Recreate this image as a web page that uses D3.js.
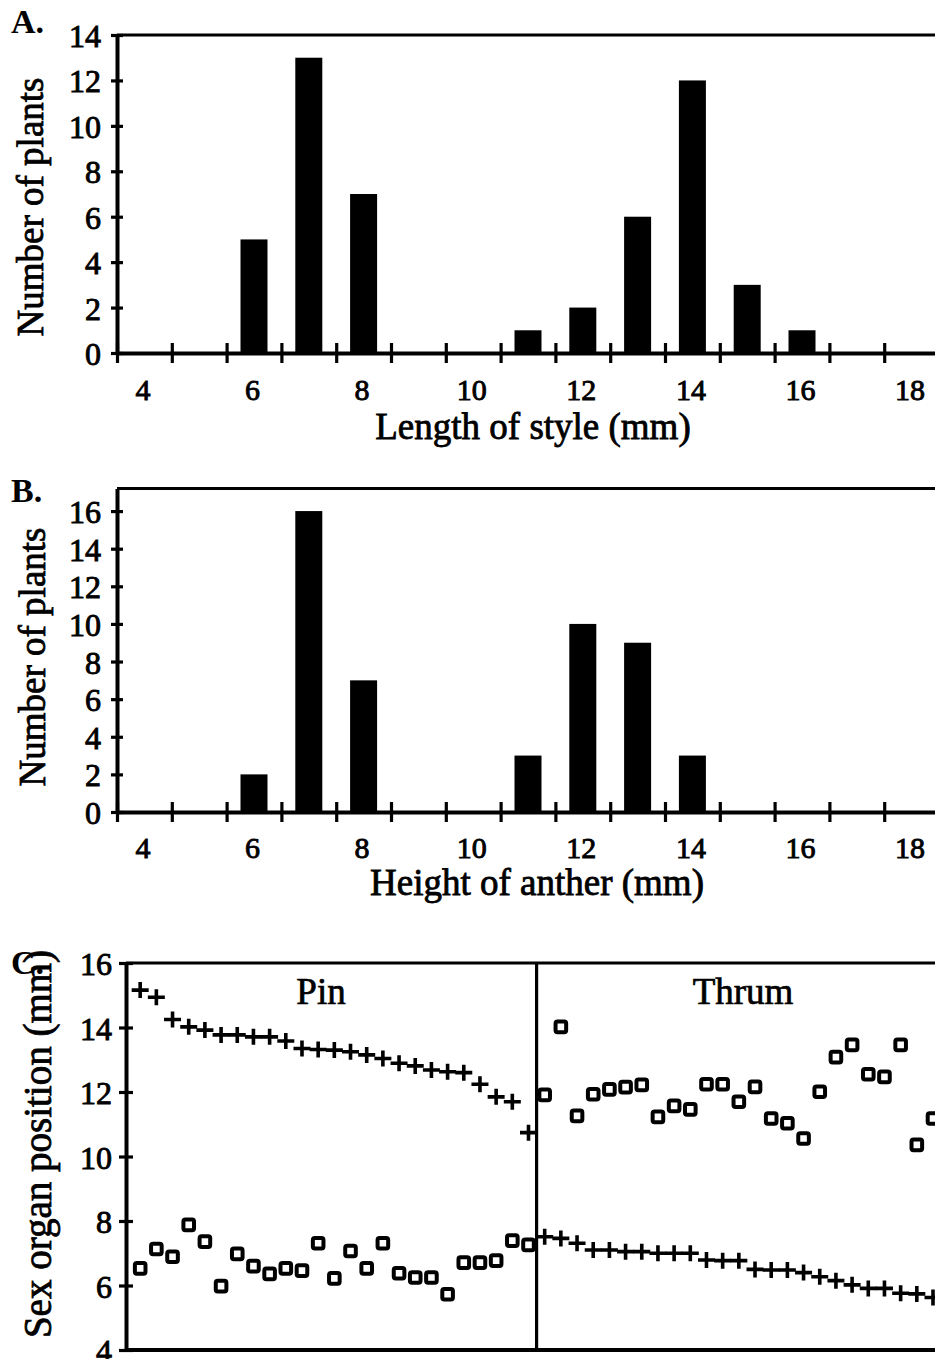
<!DOCTYPE html>
<html>
<head>
<meta charset="utf-8">
<script src="https://cdn.jsdelivr.net/npm/d3@7"></script>
<style>
  body { margin: 0; background: #fff; }
  text { font-family: "Liberation Serif", "Times New Roman", serif; fill: #000; }
</style>
</head>
<body>
<div id="chart"></div>
<script>
// histogram bins (mm) and counts
var bins = [4, 5, 6, 7, 8, 9, 10, 11, 12, 13, 14, 15, 16, 17, 18]
var styleCounts = [0, 0, 5, 13, 7, 0, 0, 1, 2, 6, 12, 3, 1, 0, 0]
var antherCounts = [0, 0, 2, 16, 7, 0, 0, 3, 10, 9, 3, 0, 0, 0, 0]
var binLabels = [4, 6, 8, 10, 12, 14, 16, 18]
var ticksA = [0, 2, 4, 6, 8, 10, 12, 14]
var ticksB = [0, 2, 4, 6, 8, 10, 12, 14, 16]

// panel C: plants ordered, crosses = style, squares = anther
var pinStyle = [15.16, 14.94, 14.25, 14.02, 13.92, 13.77, 13.77, 13.71, 13.71, 13.58, 13.35, 13.32, 13.30,
  13.25, 13.15, 13.04, 12.89, 12.81, 12.68, 12.63, 12.60, 12.24, 11.85, 11.70, 10.74]
var pinAnther = [6.53, 7.13, 6.89, 7.88, 7.36, 5.98, 6.98, 6.60, 6.36, 6.53, 6.46, 7.31, 6.22,
  7.07, 6.53, 7.31, 6.38, 6.25, 6.25, 5.73, 6.71, 6.71, 6.77, 7.39, 7.26]
var thrumAnther = [11.91, 14.02, 11.26, 11.93, 12.08, 12.15, 12.22, 11.23, 11.57, 11.46, 12.24, 12.24, 11.70,
  12.16, 11.18, 11.03, 10.56, 12.01, 13.08, 13.46, 12.55, 12.47, 13.46, 10.36, 11.18]
var thrumStyle = [7.51, 7.46, 7.31, 7.10, 7.10, 7.05, 7.05, 7.00, 7.00, 7.00, 6.79, 6.77, 6.77,
  6.50, 6.48, 6.48, 6.40, 6.27, 6.15, 6.02, 5.91, 5.91, 5.76, 5.74, 5.63]
var ticksC = [4, 6, 8, 10, 12, 14, 16]

var W = 935, H = 1359
var svg = d3.select("#chart").append("svg")
  .attr("width", W)
  .attr("height", H)

var xHist = d3.scaleLinear().domain([3.5, 18.5]).range([117, 939])
var boundaries = bins.map(function (b) { return b - 0.5 })

// scanned original has heavy type, so give text a thin outline
function ink(sel, w) {
  sel.attr("stroke", "#000").attr("stroke-width", w)
}

function drawHist(cfg) {
  var y = d3.scaleLinear().domain([0, cfg.yMax]).range([cfg.base, cfg.top])
  var g = svg.append("g")

  // top frame line
  g.append("line")
    .attr("x1", 117).attr("x2", W)
    .attr("y1", cfg.top).attr("y2", cfg.top)
    .attr("stroke", "#000").attr("stroke-width", 3.2)

  var data = bins.map(function (b, i) { return { bin: b, n: cfg.counts[i] } })
    .filter(function (d) { return d.n > 0 })
  g.selectAll(".bar")
    .data(data)
    .enter()
    .append("rect")
    .attr("class", "bar")
    .attr("x", function (d) { return xHist(d.bin) - 13.5 })
    .attr("width", 27)
    .attr("y", function (d) { return y(d.n) })
    .attr("height", function (d) { return y(0) - y(d.n) })
    .attr("fill", "#000")

  // x axis: ticks on bin edges, crossing the line
  var xa = g.append("g")
    .attr("transform", "translate(0," + cfg.base + ")")
    .call(d3.axisBottom(xHist).tickValues(boundaries).tickSizeOuter(0).tickFormat(""))
  xa.selectAll(".tick line").attr("y1", -10).attr("y2", 10).attr("stroke-width", 3.2)
  xa.select(".domain").attr("stroke-width", 4)

  var xl = g.append("g")
    .attr("transform", "translate(0," + cfg.base + ")")
    .call(d3.axisBottom(xHist).tickValues(binLabels).tickSize(0))
  xl.select(".domain").remove()
  xl.selectAll("text")
    .attr("x", -2)
    .attr("y", cfg.tickLabelY - cfg.base).attr("dy", 0)
    .style("font-family", "Liberation Serif").style("font-size", "30px")
    .call(ink, 0.9)

  var ya = g.append("g")
    .attr("transform", "translate(117,0)")
    .call(d3.axisLeft(y).tickValues(cfg.ticks).tickSizeOuter(0))
  ya.selectAll(".tick line").attr("x1", -6).attr("x2", 6).attr("stroke-width", 3.2)
  ya.select(".domain").attr("stroke-width", 4)
  ya.selectAll("text")
    .attr("x", -16).attr("dy", "0.36em")
    .style("font-family", "Liberation Serif").style("font-size", "32px")
    .call(ink, 0.9)

  g.append("text")
    .attr("x", cfg.titleX).attr("y", cfg.titleY)
    .attr("text-anchor", "middle")
    .style("font-size", "37px")
    .call(ink, 0.8)
    .text(cfg.title)

  g.append("text")
    .attr("transform", "translate(" + cfg.yTitleX + "," + cfg.yTitleY + ") rotate(-90)")
    .attr("text-anchor", "middle")
    .style("font-size", "37px")
    .call(ink, 0.8)
    .text("Number of plants")

  g.append("text")
    .attr("x", 11).attr("y", cfg.letterY)
    .style("font-size", "34px").style("font-weight", "bold")
    .text(cfg.letter)
}

drawHist({ counts: styleCounts, yMax: 14, base: 353, top: 35, ticks: ticksA,
  tickLabelY: 400, title: "Length of style (mm)", titleX: 533, titleY: 439,
  yTitleX: 43, yTitleY: 207, letter: "A.", letterY: 33 })

drawHist({ counts: antherCounts, yMax: 17.2, base: 812, top: 488.5, ticks: ticksB,
  tickLabelY: 858, title: "Height of anther (mm)", titleX: 537, titleY: 895,
  yTitleX: 45, yTitleY: 657, letter: "B.", letterY: 502 })

// panel C
var xC = d3.scaleLinear().domain([0, 50]).range([124, 933])
var yC = d3.scaleLinear().domain([4, 16]).range([1350, 963])
var gc = svg.append("g")

gc.append("line").attr("x1", 126).attr("x2", W).attr("y1", yC(16)).attr("y2", yC(16))
  .attr("stroke", "#000").attr("stroke-width", 3.2)
gc.append("line").attr("x1", 126).attr("x2", W).attr("y1", yC(4)).attr("y2", yC(4))
  .attr("stroke", "#000").attr("stroke-width", 4)
gc.append("line").attr("x1", xC(25.5)).attr("x2", xC(25.5)).attr("y1", yC(16)).attr("y2", yC(4))
  .attr("stroke", "#000").attr("stroke-width", 3.2)

var yca = gc.append("g")
  .attr("transform", "translate(126,0)")
  .call(d3.axisLeft(yC).tickValues(ticksC).tickSizeOuter(0))
yca.selectAll(".tick line").attr("x1", -7).attr("x2", 7).attr("stroke-width", 3.2)
yca.select(".domain").attr("stroke-width", 4)
yca.selectAll("text")
  .attr("x", -14).attr("dy", "0.36em")
  .style("font-family", "Liberation Serif").style("font-size", "32px")
  .call(ink, 0.9)

function pts(vals, offset) {
  return vals.map(function (v, i) { return { k: i + 1 + offset, v: v } })
}
var crosses = pts(pinStyle, 0).concat(pts(thrumStyle, 25))
var squares = pts(pinAnther, 0).concat(pts(thrumAnther, 25))

gc.selectAll(".cross")
  .data(crosses)
  .enter()
  .append("path")
  .attr("class", "cross")
  .attr("d", function (d) {
    var x = xC(d.k), y = yC(d.v)
    return "M" + (x - 8.5) + "," + y + "H" + (x + 8.5) + "M" + x + "," + (y - 8) + "V" + (y + 8)
  })
  .attr("stroke", "#000").attr("stroke-width", 3.6).attr("fill", "none")

gc.selectAll(".sq")
  .data(squares)
  .enter()
  .append("rect")
  .attr("class", "sq")
  .attr("x", function (d) { return xC(d.k) - 5.3 })
  .attr("y", function (d) { return yC(d.v) - 5.3 })
  .attr("width", 10.6).attr("height", 10.6).attr("rx", 2)
  .attr("fill", "#fff").attr("stroke", "#000").attr("stroke-width", 4)

gc.append("text").attr("x", 321).attr("y", 1004).attr("text-anchor", "middle")
  .style("font-size", "37px").call(ink, 0.7).text("Pin")
gc.append("text").attr("x", 743).attr("y", 1004).attr("text-anchor", "middle")
  .style("font-size", "37px").call(ink, 0.7).text("Thrum")

gc.append("text")
  .attr("transform", "translate(51,1144) rotate(-90)")
  .attr("text-anchor", "middle")
  .style("font-size", "39px")
  .call(ink, 0.8)
  .text("Sex organ position (mm)")

gc.append("text")
  .attr("x", 11).attr("y", 974)
  .style("font-size", "34px").style("font-weight", "bold")
  .text("C.")
</script>
</body>
</html>
